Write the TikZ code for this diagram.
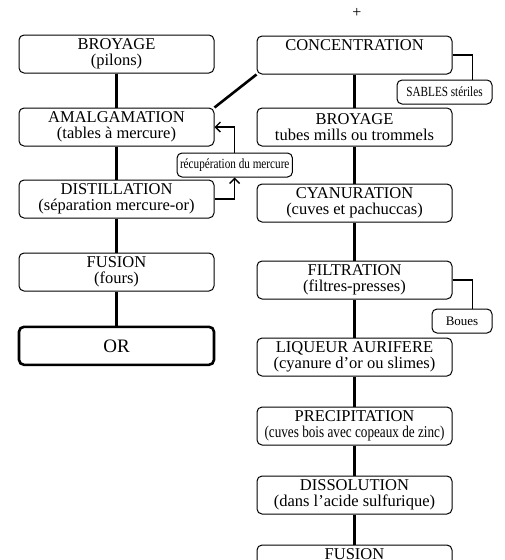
\documentclass[tikz,border=0pt]{standalone}
\usepackage{fontspec}
\setmainfont{Liberation Serif}
\usepackage{graphicx}
\usetikzlibrary{positioning,arrows.meta}
\newcommand{\squeezed}[1]{\scalebox{0.8}[1]{#1}}

\begin{document}
\begin{tikzpicture}[
      x=1pt, y=-1pt,
      box/.style={draw, rounded corners=5pt, minimum width=195pt, minimum height=38pt,
                  inner sep=1pt, align=center, line width=1pt,
                  font=\fontsize{16.5}{16.5}\selectfont},
      gold/.style={box, line width=2.6pt, font=\fontsize{19}{19}\selectfont},
      side/.style={draw, rounded corners=5pt, minimum height=24pt, inner xsep=3pt,
                   line width=1pt, font=\fontsize{14}{14}\selectfont},
      link/.style={line width=2.6pt},
      branch/.style={line width=1.4pt},
      arr/.style={->, line width=1.4pt, >={Straight Barb[length=5pt,width=10pt]}}
    ]
    \useasboundingbox (0,0) rectangle (504,560);
    \clip (0,0) rectangle (504,560);
    \fill[white] (0,0) rectangle (504,560);

    % amalgamation route
    \node[box]  (broy1) at (116.5,54) {BROYAGE\\(pilons)};
    \node[box]  (amal)  [below=34pt of broy1] {AMALGAMATION\\(tables à mercure)};
    \node[box]  (dist)  [below=33pt of amal]  {DISTILLATION\\(séparation mercure-or)};
    \node[box]  (fus1)  [below=34pt of dist]  {FUSION\\(fours)};
    \node[gold] (gold)  [below=34pt of fus1]  {OR};

    % cyanuration route
    \node[box] (conc)  at (354.5,55) {CONCENTRATION\\\phantom{(p)}};
    \node[box] (broy2) [below=33pt of conc]  {BROYAGE\\tubes mills ou trommels};
    \node[box] (cyan)  [below=37pt of broy2] {CYANURATION\\(cuves et pachuccas)};
    \node[box] (filt)  [below=38pt of cyan]  {FILTRATION\\(filtres-presses)};
    \node[box] (liq)   [below=38pt of filt]  {LIQUEUR AURIFERE\\(cyanure d’or ou slimes)};
    \node[box] (prec)  [below=30pt of liq]   {PRECIPITATION\\\squeezed{(cuves bois avec copeaux de zinc)}};
    \node[box] (diss)  [below=30pt of prec]  {DISSOLUTION\\(dans l’acide sulfurique)};
    \node[box] (fus2)  [below=30pt of diss]  {FUSION\\(fours)};

    \node (plus) [above=14pt of conc, xshift=2.5pt, font=\fontsize{16}{16}\selectfont] {+};

    % side products
    \node[side, minimum width=95pt, anchor=north east] (sables)
          at ([xshift=40pt, yshift=-5pt]conc.south east) {\squeezed{SABLES stériles}};
    \node[side, minimum width=60pt, anchor=north east, font=\fontsize{13}{13}\selectfont] (boues)
          at ([xshift=40pt, yshift=-9pt]filt.south east) {Boues};
    \node[side, minimum width=115pt] (recup) [below right=6pt and -38pt of amal.south east]
          {\squeezed{récupération du mercure}};

    \draw[link] (broy1) -- (amal);
    \draw[link] (amal)  -- (dist);
    \draw[link] (dist)  -- (fus1);
    \draw[link] (fus1)  -- (gold);
    \draw[link] (conc)  -- (broy2);
    \draw[link] (broy2) -- (cyan);
    \draw[link] (cyan)  -- (filt);
    \draw[link] (filt)  -- (liq);
    \draw[link] (liq)   -- (prec);
    \draw[link] (prec)  -- (diss);
    \draw[link] (diss)  -- (fus2);
    \draw[link] (amal.north east) -- (conc.south west);

    \draw[branch] (conc.east) -| ([xshift=-20pt]sables.north east);
    \draw[branch] (filt.east) -| ([xshift=-20pt]boues.north east);
    \draw[arr] (dist.east) -| (recup.south);
    \draw[arr] (recup.north) |- (amal.east);
  \end{tikzpicture}
\end{document}
